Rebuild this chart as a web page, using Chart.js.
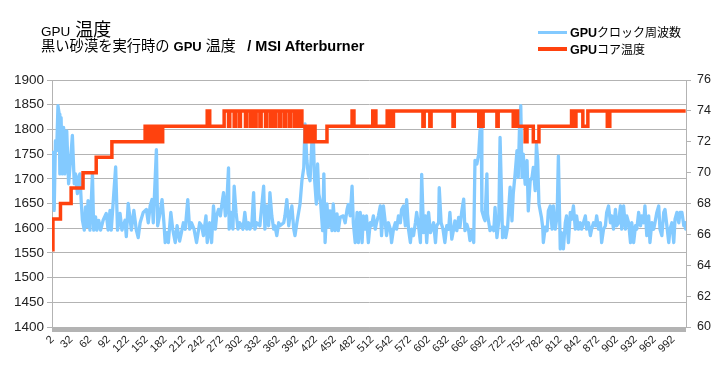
<!DOCTYPE html>
<html>
<head>
<meta charset="utf-8">
<script src="https://cdn.jsdelivr.net/npm/chart.js@4"></script>
<style>
  body { margin: 0; background: #fff; }
  #wrap { position: relative; width: 724px; height: 374px; background: #fff; }
  #chart { position: absolute; left: 0; top: 0; }
  .txt { position: absolute; white-space: nowrap; color: #000;
         font-family: "Liberation Sans", "Noto Sans CJK JP", sans-serif; line-height: 1; }
  .cjk { font-family: "Noto Sans CJK JP", sans-serif; }
  .b { font-weight: bold; }
  .legend-row { position: absolute; left: 538px; height: 16px; white-space: nowrap;
                font-family: "Liberation Sans", "Noto Sans CJK JP", sans-serif; font-size: 12.5px; }
  .swatch { position: absolute; left: 0; width: 29px; }
  .legend-row span.label { position: absolute; left: 32px; top: 0; line-height: 16px; }
</style>
</head>
<body>
<div id="wrap">
  <canvas id="chart" width="724" height="374"></canvas>
  <div class="txt" style="left:41px; top:19px; font-size:18px;"><span style="font-size:13.5px">GPU</span> <span class="cjk">温度</span></div>
  <div class="txt" style="left:41px; top:37px; font-size:14px;"><span class="cjk" style="font-size:14.3px">黒い砂漠を実行時の</span>&nbsp;<span class="b" style="font-size:13px">GPU</span> <span class="cjk" style="font-size:15px">温度</span>&nbsp;&nbsp; <span class="b" style="font-size:14.5px">/ MSI Afterburner</span></div>
  <div id="legend"></div>
</div>
<script>
// x axis: one category per sample, a label every 30 samples
const firstSample = 2;
const lastSample = 1012;
const xTickLabels = [2, 32, 62, 92, 122, 152, 182, 212, 242, 272, 302, 332, 362, 392, 422, 452, 482,
    512, 542, 572, 602, 632, 662, 692, 722, 752, 782, 812, 842, 872, 902, 932, 962, 992];

const seriesNames = ['GPU クロック周波数', 'GPU コア温度'];

// GPU clock (MHz): sample number / value
const clockIdx = [2, 4, 5, 7, 9, 11, 13, 14, 16, 18, 20, 22, 25, 28, 31, 34, 37, 39, 42, 44, 46, 48, 50, 53, 55, 57, 59,
    62, 64, 66, 68, 71, 73, 76, 79, 83, 88, 91, 94, 96, 100, 103, 106, 110, 113, 118, 120, 123, 125, 128, 132, 136,
    139, 142, 147, 152, 155, 158, 161, 163, 168, 170, 173, 177, 180, 182, 185, 187, 191, 194, 198, 201, 205, 209,
    211, 214, 218, 221, 224, 228, 232, 237, 240, 243, 247, 249, 253, 256, 259, 262, 264, 267, 270, 272, 275, 278,
    280, 283, 284, 287, 290, 292, 295, 298, 301, 306, 309, 312, 315, 317, 320, 323, 325, 328, 333, 336, 339, 341,
    344, 347, 349, 352, 355, 357, 360, 363, 365, 371, 373, 376, 379, 381, 384, 387, 389, 392, 397, 400, 403, 405,
    408, 410, 413, 416, 418, 420, 423, 425, 427, 430, 433, 435, 437, 440, 442, 445, 448, 450, 453, 456, 458, 461,
    466, 469, 472, 474, 477, 480, 482, 485, 488, 490, 493, 496, 498, 501, 503, 506, 509, 511, 514, 517, 519, 522,
    525, 527, 530, 533, 535, 538, 541, 543, 546, 549, 551, 554, 557, 559, 562, 565, 567, 570, 573, 575, 578, 581,
    583, 586, 589, 591, 594, 597, 599, 602, 605, 607, 610, 613, 615, 618, 619, 622, 625, 628, 631, 634, 636, 639,
    642, 644, 647, 650, 652, 655, 658, 660, 663, 666, 668, 671, 674, 676, 679, 682, 684, 686, 687, 690, 692, 695,
    696, 700, 703, 706, 708, 711, 714, 716, 718, 720, 723, 725, 728, 732, 735, 737, 740, 743, 745, 747, 749, 751,
    753, 756, 759, 761, 764, 767, 769, 772, 774, 776, 778, 782, 784, 785, 788, 791, 793, 796, 799, 801, 804, 807,
    809, 812, 814, 817, 820, 822, 825, 828, 830, 833, 836, 838, 841, 844, 846, 849, 852, 854, 857, 860, 862, 865,
    868, 870, 873, 876, 878, 881, 884, 886, 889, 892, 894, 897, 900, 902, 905, 908, 910, 913, 916, 918, 921, 924,
    926, 929, 932, 934, 937, 940, 942, 945, 947, 950, 953, 955, 958, 961, 963, 966, 969, 971, 974, 977, 979, 982,
    985, 987, 990, 993, 995, 998, 1001, 1003, 1006, 1009, 1011, 1012];
const clockMhz = [1757, 1670, 1636, 1777, 1757, 1848, 1831, 1710, 1824, 1710, 1804, 1710, 1797, 1690, 1737, 1788, 1690,
    1710, 1670, 1703, 1710, 1656, 1616, 1596, 1643, 1603, 1656, 1596, 1650, 1710, 1596, 1623, 1596, 1616, 1596, 1616,
    1630, 1596, 1636, 1596, 1670, 1724, 1596, 1630, 1596, 1616, 1583, 1650, 1630, 1596, 1636, 1596, 1581, 1611, 1632,
    1638, 1611, 1645, 1658, 1611, 1759, 1605, 1625, 1658, 1611, 1571, 1591, 1571, 1632, 1598, 1571, 1605, 1574, 1598,
    1611, 1598, 1658, 1598, 1611, 1598, 1571, 1611, 1605, 1585, 1625, 1571, 1611, 1571, 1645, 1598, 1625, 1638, 1625,
    1645, 1672, 1625, 1645, 1722, 1598, 1632, 1598, 1685, 1632, 1598, 1611, 1598, 1632, 1598, 1611, 1598, 1605, 1672,
    1598, 1611, 1605, 1645, 1685, 1598, 1645, 1605, 1672, 1625, 1598, 1605, 1585, 1611, 1605, 1611, 1625, 1658, 1605,
    1625, 1645, 1598, 1585, 1611, 1649, 1696, 1723, 1811, 1737, 1710, 1696, 1777, 1797, 1703, 1649, 1730, 1669, 1649,
    1595, 1710, 1571, 1649, 1602, 1635, 1595, 1649, 1595, 1629, 1595, 1622, 1625, 1611, 1638, 1648, 1625, 1685, 1611,
    1571, 1632, 1571, 1632, 1571, 1625, 1598, 1625, 1571, 1611, 1605, 1625, 1598, 1611, 1625, 1645, 1585, 1645, 1611,
    1585, 1611, 1598, 1571, 1598, 1611, 1598, 1625, 1611, 1638, 1645, 1605, 1658, 1598, 1571, 1598, 1585, 1611, 1632,
    1605, 1571, 1709, 1591, 1625, 1571, 1632, 1591, 1598, 1611, 1571, 1605, 1611, 1682, 1611, 1598, 1571, 1605, 1598,
    1632, 1578, 1598, 1615, 1595, 1622, 1602, 1635, 1659, 1595, 1608, 1595, 1575, 1595, 1571, 1737, 1730, 1750, 1797,
    1804, 1635, 1622, 1615, 1710, 1629, 1595, 1602, 1595, 1642, 1581, 1615, 1784, 1683, 1581, 1602, 1581, 1602, 1683,
    1615, 1669, 1710, 1757, 1703, 1804, 1848, 1703, 1750, 1689, 1737, 1635, 1696, 1703, 1723, 1676, 1770, 1737, 1649,
    1622, 1602, 1571, 1602, 1595, 1635, 1645, 1598, 1645, 1598, 1625, 1746, 1558, 1591, 1558, 1611, 1625, 1571, 1632,
    1618, 1645, 1598, 1625, 1598, 1611, 1598, 1611, 1625, 1598, 1611, 1585, 1598, 1611, 1605, 1625, 1598, 1611, 1571,
    1598, 1605, 1632, 1645, 1611, 1625, 1598, 1638, 1605, 1611, 1645, 1598, 1645, 1598, 1625, 1611, 1571, 1611, 1571,
    1605, 1598, 1632, 1605, 1625, 1611, 1645, 1585, 1625, 1571, 1611, 1598, 1611, 1632, 1645, 1598, 1585, 1632, 1638,
    1605, 1571, 1598, 1611, 1571, 1618, 1632, 1611, 1632, 1632, 1605, 1611, 1598];

// GPU core temperature (°C): sample where the value changes / new value
const tempIdx = [2, 3, 15, 32, 51, 72, 97, 150, 155, 158, 162, 165, 170, 172, 176, 178, 249, 253, 276,
    283, 285, 292, 294, 300, 302, 310, 312, 318, 320, 325, 327, 333, 335, 342, 344, 350, 352, 356, 358,
    364, 366, 372, 374, 380, 382, 388, 390, 394, 396, 400, 405, 408, 411, 414, 416, 419, 421, 440, 480,
    483, 513, 518, 536, 538, 541, 543, 546, 593, 595, 604, 606, 641, 643, 682, 684, 686, 689, 711, 713,
    737, 740, 744, 756, 759, 769, 778, 830, 834, 837, 848, 856, 887, 891, 1012];
const tempC = [65, 67, 68, 69, 70, 71, 72, 73, 72, 73, 72, 73, 72, 73, 72, 73, 74, 73, 74,
    73, 74, 73, 74, 73, 74, 73, 74, 73, 74, 73, 74, 73, 74, 73, 74, 73, 74, 73, 74,
    73, 74, 73, 74, 73, 74, 73, 74, 73, 74, 73, 72, 73, 72, 73, 72, 73, 72, 73, 74,
    73, 74, 73, 74, 73, 74, 73, 74, 73, 74, 73, 74, 73, 74, 73, 74, 73, 74, 73, 74,
    73, 74, 73, 72, 73, 72, 73, 74, 73, 74, 73, 74, 73, 74, 74];

const clockColor = '#83caff';
const tempColor = '#ff420e';
const gridColor = '#b3b3b3';

// every sample gets a tick mark on the category axis
const sampleTicks = [];
for (let s = firstSample; s <= lastSample; s++) sampleTicks.push({ value: s });

const toPoints = (xs, ys) => xs.map((x, i) => ({ x: x, y: ys[i] }));

new Chart(document.getElementById('chart'), {
    type: 'line',
    data: {
        datasets: [{
            label: seriesNames[0],
            data: toPoints(clockIdx, clockMhz),
            borderColor: clockColor,
            borderWidth: 3.3,
            borderJoinStyle: 'round',
            pointRadius: 0,
            yAxisID: 'y',
            order: 1
        }, {
            label: seriesNames[1],
            data: toPoints(tempIdx, tempC),
            borderColor: tempColor,
            borderWidth: 3.5,
            stepped: true,
            pointRadius: 0,
            yAxisID: 'y2',
            order: 0
        }]
    },
    options: {
        responsive: false,
        animation: false,
        layout: { padding: { top: 80, left: 0, right: 0, bottom: 0 } },
        plugins: { legend: { display: false }, title: { display: false }, tooltip: { enabled: false } },
        scales: {
            x: {
                type: 'linear',
                min: firstSample - 0.5,
                max: lastSample + 0.5,
                afterBuildTicks: scale => { scale.ticks = sampleTicks.slice(); },
                afterFit: scale => { scale.height = 47; },
                grid: { drawOnChartArea: false, color: gridColor, tickLength: 5 },
                border: { color: gridColor },
                ticks: {
                    autoSkip: false,
                    minRotation: 45,
                    maxRotation: 45,
                    padding: 1,
                    color: '#222',
                    font: { family: 'Liberation Sans', size: 11 },
                    callback: v => xTickLabels.includes(v) ? String(v) : ''
                }
            },
            y: {
                position: 'left',
                min: 1400,
                max: 1900,
                afterFit: scale => { scale.width = 52; },
                grid: { color: gridColor, tickLength: 5 },
                border: { color: gridColor },
                ticks: { stepSize: 50, padding: 3, color: '#222', font: { family: 'Liberation Sans', size: 13.5 },
                         callback: v => String(v) }
            },
            y2: {
                position: 'right',
                min: 60,
                max: 76,
                afterFit: scale => { scale.width = 38; },
                grid: { drawOnChartArea: false, color: gridColor, tickLength: 5 },
                border: { color: gridColor },
                ticks: { stepSize: 2, padding: 6, color: '#222', font: { family: 'Liberation Sans', size: 12.5 },
                         callback: v => String(v) }
            }
        }
    }
});

// legend, drawn as html in the top right corner
const legend = document.getElementById('legend');
[[seriesNames[0], clockColor, 3, 24], [seriesNames[1], tempColor, 3.5, 41]].forEach(([name, color, w, top]) => {
    const row = document.createElement('div');
    row.className = 'legend-row';
    row.style.top = top + 'px';
    const parts = name.split(' ');
    row.innerHTML = `<div class="swatch" style="top:${8 - w / 2}px;height:${w}px;background:${color}"></div>
        <span class="label"><b>${parts[0]}</b><span class="cjk" style="font-size:12px">${parts[1]}</span></span>`;
    legend.appendChild(row);
});
</script>
</body>
</html>
